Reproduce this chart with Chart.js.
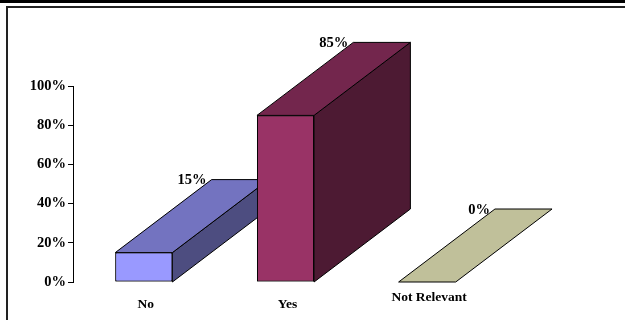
<!DOCTYPE html>
<html>
<head>
<meta charset="utf-8">
<script src="https://cdn.jsdelivr.net/npm/chart.js@4/dist/chart.umd.min.js"></script>
<style>
    html, body { margin: 0; padding: 0; background: #fff; overflow: hidden; }
    .page { position: relative; width: 625px; height: 320px; }
    .rule { position: absolute; left: 0; top: 0; width: 625px; height: 3px; background: #000; }
    .frame {
        position: absolute; left: 6px; top: 6px; width: 700px; height: 400px;
        border-top: 2px solid #222; border-left: 2px solid #222;
    }
    canvas { position: absolute; left: 0; top: 0; }
</style>
</head>
<body>
<div class="page">
    <div class="rule"></div>
    <div class="frame"></div>
    <canvas id="chart" width="625" height="320"></canvas>
</div>
<script>
const categories = ['No', 'Yes', 'Not Relevant'];
const values = [15, 85, 0];
const yTicks = [0, 20, 40, 60, 80, 100];

const frontColors = ['#9999ff', '#993366', '#ffffcc'];
const topColors = ['#7373c0', '#73264d', '#c0c09a'];
const sideColors = ['#4d4d80', '#4d1a33', '#80805a'];

const serif = '"Liberation Serif", "Times New Roman", serif';

function face(ctx, pts, fill) {
    ctx.beginPath();
    ctx.moveTo(pts[0][0], pts[0][1]);
    pts.slice(1).forEach((p) => ctx.lineTo(p[0], p[1]));
    ctx.closePath();
    ctx.fillStyle = fill;
    ctx.fill();
    ctx.stroke();
}

// gives each bar a top and a right side receding back and up
const extrude = {
    id: 'extrude',
    afterDatasetsDraw(chart) {
        const ctx = chart.ctx;
        const meta = chart.getDatasetMeta(0);
        const base = chart.scales.y.getPixelForValue(0);
        const step = chart.scales.x.getPixelForValue(1) - chart.scales.x.getPixelForValue(0);
        const dx = step * 0.68;
        const dy = -73;
        const tops = [];

        meta.data.forEach((bar, i) => {
            const { x, y, width } = bar.getProps(['x', 'y', 'width'], true);
            const l = x - width / 2;
            const r = x + width / 2;
            ctx.save();
            ctx.lineWidth = 1;
            ctx.strokeStyle = '#000';
            ctx.lineJoin = 'round';
            if (base - y > 0.5) {
                face(ctx, [[r, y], [r, base], [r + dx, base + dy], [r + dx, y + dy]], sideColors[i]);
            }
            face(ctx, [[l, y], [r, y], [r + dx, y + dy], [l + dx, y + dy]], topColors[i]);
            ctx.restore();
            if (values[i] > 0) {
                bar.draw(ctx);
            }
            tops.push({ x: l + dx, y: y + dy });
        });

        ctx.save();
        ctx.fillStyle = '#000';
        ctx.font = 'bold 14.5px ' + serif;
        ctx.textAlign = 'right';
        ctx.textBaseline = 'middle';
        tops.forEach((p, i) => ctx.fillText(values[i] + '%', p.x - 5, p.y + 1));

        // category names under the floor
        const rise = [0, 0, 7];
        ctx.font = 'bold 13.5px ' + serif;
        ctx.textAlign = 'center';
        meta.data.forEach((bar, i) => {
            ctx.fillText(categories[i], bar.x + 2, base + 23 - rise[i]);
        });
        ctx.restore();
    }
};

new Chart(document.getElementById('chart'), {
    type: 'bar',
    data: {
        labels: categories,
        datasets: [{
            data: values,
            backgroundColor: frontColors,
            borderColor: '#000',
            borderWidth: 1,
            borderSkipped: false,
            barPercentage: 0.403,
            categoryPercentage: 1
        }]
    },
    options: {
        responsive: false,
        animation: false,
        layout: {
            padding: { left: 0, right: 127, top: 86, bottom: 38 }
        },
        plugins: {
            legend: { display: false },
            tooltip: { enabled: false }
        },
        scales: {
            x: {
                display: false
            },
            y: {
                min: 0,
                max: 100,
                afterFit: (scale) => { scale.width = 73; },
                afterBuildTicks: (scale) => {
                    scale.ticks = yTicks.map((v) => ({ value: v }));
                },
                border: { display: true, color: '#000', width: 1 },
                grid: {
                    drawOnChartArea: false,
                    drawTicks: true,
                    tickLength: 5,
                    tickColor: '#000'
                },
                ticks: {
                    color: '#000',
                    padding: 2,
                    font: { family: serif, size: 14.5, weight: 'bold' },
                    callback: (v) => v + '%'
                }
            }
        }
    },
    plugins: [extrude]
});
</script>
</body>
</html>
